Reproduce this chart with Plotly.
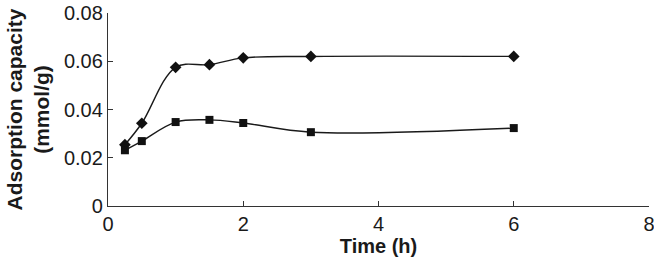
import plotly.graph_objects as go

time_h = [0.25, 0.5, 1, 1.5, 2, 3, 6]
series_diamond = [0.0254, 0.0343, 0.0575, 0.0586, 0.0614, 0.0620, 0.0620]
series_square = [0.0231, 0.0269, 0.0348, 0.0357, 0.0344, 0.0306, 0.0323]
x_ticks = [0, 2, 4, 6, 8]
y_ticks = [0, 0.02, 0.04, 0.06, 0.08]
y_tick_labels = ["0", "0.02", "0.04", "0.06", "0.08"]

fig = go.Figure()
fig.add_trace(go.Scatter(
    x=time_h, y=series_diamond, mode="lines+markers",
    line=dict(color="#1a1a1a", width=1.4, shape="spline", smoothing=1.0),
    marker=dict(symbol="diamond", size=9, color="#111111"),
    showlegend=False, cliponaxis=False))
fig.add_trace(go.Scatter(
    x=time_h, y=series_square, mode="lines+markers",
    line=dict(color="#1a1a1a", width=1.4, shape="spline", smoothing=1.0),
    marker=dict(symbol="square", size=8, color="#111111"),
    showlegend=False, cliponaxis=False))

font_family = "Liberation Sans, Arial, sans-serif"
fig.update_layout(
    width=654, height=263,
    margin=dict(l=108, r=5, t=13, b=57, autoexpand=False),
    plot_bgcolor="white", paper_bgcolor="white",
    font=dict(family=font_family, size=20, color="#1a1a1a"),
)
fig.update_xaxes(
    range=[0, 8], tickvals=x_ticks, ticktext=[str(v) for v in x_ticks],
    showgrid=False, zeroline=False, showline=True, linecolor="#333333", linewidth=1.3,
    ticks="inside", ticklen=5, tickwidth=1.2, tickcolor="#333333",
    tickfont=dict(size=20), automargin=False, ticklabeloverflow="allow",
    title=dict(text="<b>Time (h)</b>", font=dict(size=20), standoff=4),
)
fig.update_yaxes(
    range=[0, 0.08], tickvals=y_ticks, ticktext=y_tick_labels,
    showgrid=False, zeroline=False, showline=True, linecolor="#333333", linewidth=1.3,
    ticks="inside", ticklen=5, tickwidth=1.2, tickcolor="#333333",
    tickfont=dict(size=20), automargin=False, ticklabeloverflow="allow",
    title=dict(text="<b>Adsorption capacity<br>(mmol/g)</b>", font=dict(size=21), standoff=8),
)

fig.write_html(
    "out.html",
    config={"displayModeBar": False},
    post_script="document.body.style.margin='0px';document.body.style.overflow='hidden';",
)
